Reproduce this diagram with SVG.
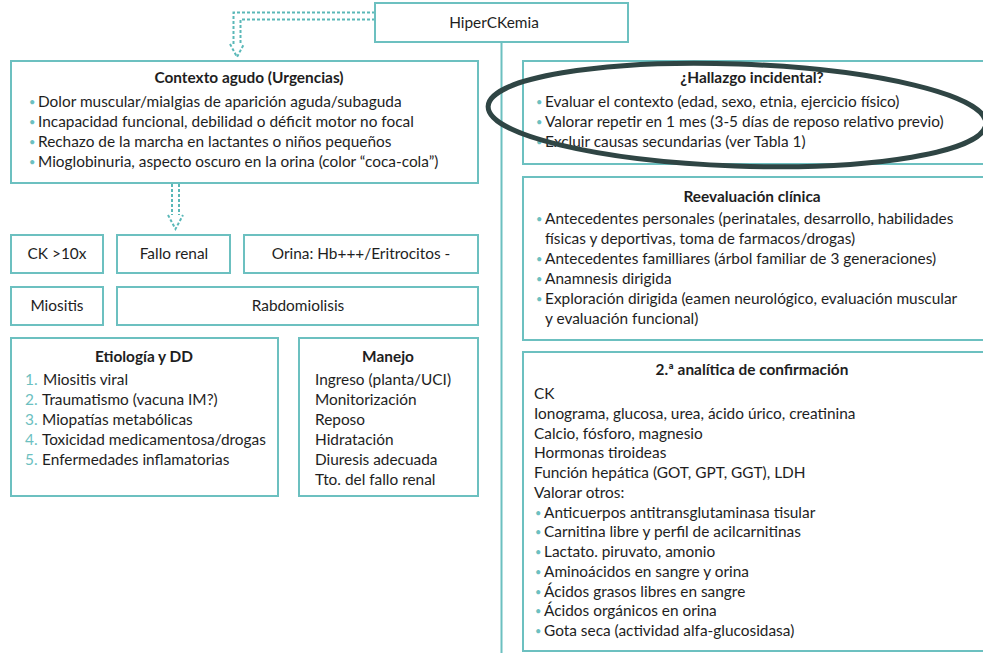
<svg xmlns="http://www.w3.org/2000/svg" width="983" height="653" viewBox="0 0 983 653">
<style>
.box{fill:#fff;stroke:#6cc0c0;stroke-width:2}
text{font-family:Lato,"Noto Sans","Liberation Sans",sans-serif;font-size:15.4px;fill:#1e1e1e}
.t{font-weight:bold;text-anchor:middle}
.c{text-anchor:middle}
.b{fill:#6cc0c0}
.d{fill:#6cc0c0;font-size:11px}
.dot{fill:none;stroke:#5ab8b8;stroke-width:2;stroke-dasharray:3 2}
.ln{fill:none;stroke:#6cc0c0;stroke-width:2}
</style>
<rect width="983" height="653" fill="#fff"/>
<g id="connectors">
<line class="ln" x1="501.5" y1="42" x2="501.5" y2="653"/>
<path class="dot" d="M375 12.5H233.5V44"/>
<path class="dot" d="M375 19.5H240.5V44"/>
<path class="dot" d="M230 44L237 57L244 44"/>
<path class="dot" d="M172 184V215"/>
<path class="dot" d="M179 184V215"/>
<path class="dot" d="M168 215L175.5 229L183 215"/>
</g>
<g id="hiperckemia">
<rect class="box" x="375" y="3" width="253" height="39"/>
<text class="c" x="494" y="28">HiperCKemia</text>
</g>
<g id="contexto">
<rect class="box" x="11" y="61" width="467" height="122"/>
<text class="t" x="249" y="83">Contexto agudo (Urgencias)</text>
<text class="d" x="29" y="106">•</text><text x="38" y="107">Dolor muscular/mialgias de aparición aguda/subaguda</text>
<text class="d" x="29" y="126">•</text><text x="38" y="127">Incapacidad funcional, debilidad o déficit motor no focal</text>
<text class="d" x="29" y="146">•</text><text x="38" y="147">Rechazo de la marcha en lactantes o niños pequeños</text>
<text class="d" x="29" y="166">•</text><text x="38" y="167">Mioglobinuria, aspecto oscuro en la orina (color “coca-cola”)</text>
</g>
<g id="ck">
<rect class="box" x="11" y="235" width="92" height="38"/>
<text class="c" x="57" y="259">CK &gt;10x</text>
</g>
<g id="fallo">
<rect class="box" x="117" y="235" width="113" height="38"/>
<text class="c" x="174" y="259">Fallo renal</text>
</g>
<g id="orina">
<rect class="box" x="244" y="235" width="234" height="38"/>
<text class="c" x="361" y="259">Orina: Hb+++/Eritrocitos -</text>
</g>
<g id="miositis">
<rect class="box" x="11" y="287" width="92" height="38"/>
<text class="c" x="57" y="311">Miositis</text>
</g>
<g id="rabdo">
<rect class="box" x="117" y="287" width="361" height="38"/>
<text class="c" x="298" y="311">Rabdomiolisis</text>
</g>
<g id="etiologia">
<rect class="box" x="11" y="338" width="267" height="158"/>
<text class="t" x="144" y="362">Etiología y DD</text>
<text class="b" x="25" y="385">1.</text><text x="43" y="385">Miositis viral</text>
<text class="b" x="25" y="405">2.</text><text x="42" y="405">Traumatismo (vacuna IM?)</text>
<text class="b" x="25" y="425">3.</text><text x="42" y="425">Miopatías metabólicas</text>
<text class="b" x="25" y="445">4.</text><text x="42" y="445">Toxicidad medicamentosa/drogas</text>
<text class="b" x="25" y="465">5.</text><text x="42" y="465">Enfermedades inflamatorias</text>
</g>
<g id="manejo">
<rect class="box" x="299" y="338" width="179" height="158"/>
<text class="t" x="388" y="362">Manejo</text>
<text x="315" y="385">Ingreso (planta/UCI)</text>
<text x="315" y="405">Monitorización</text>
<text x="315" y="425">Reposo</text>
<text x="315" y="445">Hidratación</text>
<text x="315" y="465">Diuresis adecuada</text>
<text x="315" y="485">Tto. del fallo renal</text>
</g>
<g id="hallazgo">
<rect class="box" x="523" y="61" width="470" height="103"/>
<text class="t" x="752" y="83">¿Hallazgo incidental?</text>
<text class="d" x="536" y="106">•</text><text x="545" y="107">Evaluar el contexto (edad, sexo, etnia, ejercicio físico)</text>
<text class="d" x="536" y="126">•</text><text x="545" y="127">Valorar repetir en 1 mes (3-5 días de reposo relativo previo)</text>
<text class="d" x="536" y="146">•</text><text x="545" y="147">Excluir causas secundarias (ver Tabla 1)</text>
<ellipse cx="737" cy="115" rx="249" ry="51" fill="none" stroke="#2f4544" stroke-width="5" transform="rotate(2 737 115)"/>
</g>
<g id="reevaluacion">
<rect class="box" x="523" y="177" width="470" height="163"/>
<text class="t" x="752" y="202">Reevaluación clínica</text>
<text class="d" x="536" y="223">•</text><text x="545" y="224">Antecedentes personales (perinatales, desarrollo, habilidades</text>
<text x="545" y="244">físicas y deportivas, toma de farmacos/drogas)</text>
<text class="d" x="536" y="263">•</text><text x="545" y="264">Antecedentes familliares (árbol familiar de 3 generaciones)</text>
<text class="d" x="536" y="283">•</text><text x="545" y="284">Anamnesis dirigida</text>
<text class="d" x="536" y="303">•</text><text x="545" y="304">Exploración dirigida (eamen neurológico, evaluación muscular</text>
<text x="545" y="324">y evaluación funcional)</text>
</g>
<g id="analitica">
<rect class="box" x="523" y="352" width="470" height="299"/>
<text class="t" x="752" y="375">2.ª analítica de confirmación</text>
<text x="534" y="399">CK</text>
<text x="534" y="419">Ionograma, glucosa, urea, ácido úrico, creatinina</text>
<text x="534" y="439">Calcio, fósforo, magnesio</text>
<text x="534" y="458">Hormonas tiroideas</text>
<text x="534" y="478">Función hepática (GOT, GPT, GGT), LDH</text>
<text x="534" y="498">Valorar otros:</text>
<text class="d" x="535" y="517">•</text><text x="544" y="518">Anticuerpos antitransglutaminasa tisular</text>
<text class="d" x="535" y="536">•</text><text x="544" y="537">Carnitina libre y perfil de acilcarnitinas</text>
<text class="d" x="535" y="556">•</text><text x="544" y="557">Lactato. piruvato, amonio</text>
<text class="d" x="535" y="576">•</text><text x="544" y="577">Aminoácidos en sangre y orina</text>
<text class="d" x="535" y="596">•</text><text x="544" y="597">Ácidos grasos libres en sangre</text>
<text class="d" x="535" y="615">•</text><text x="544" y="616">Ácidos orgánicos en orina</text>
<text class="d" x="535" y="635">•</text><text x="544" y="636">Gota seca (actividad alfa-glucosidasa)</text>
</g>
</svg>
